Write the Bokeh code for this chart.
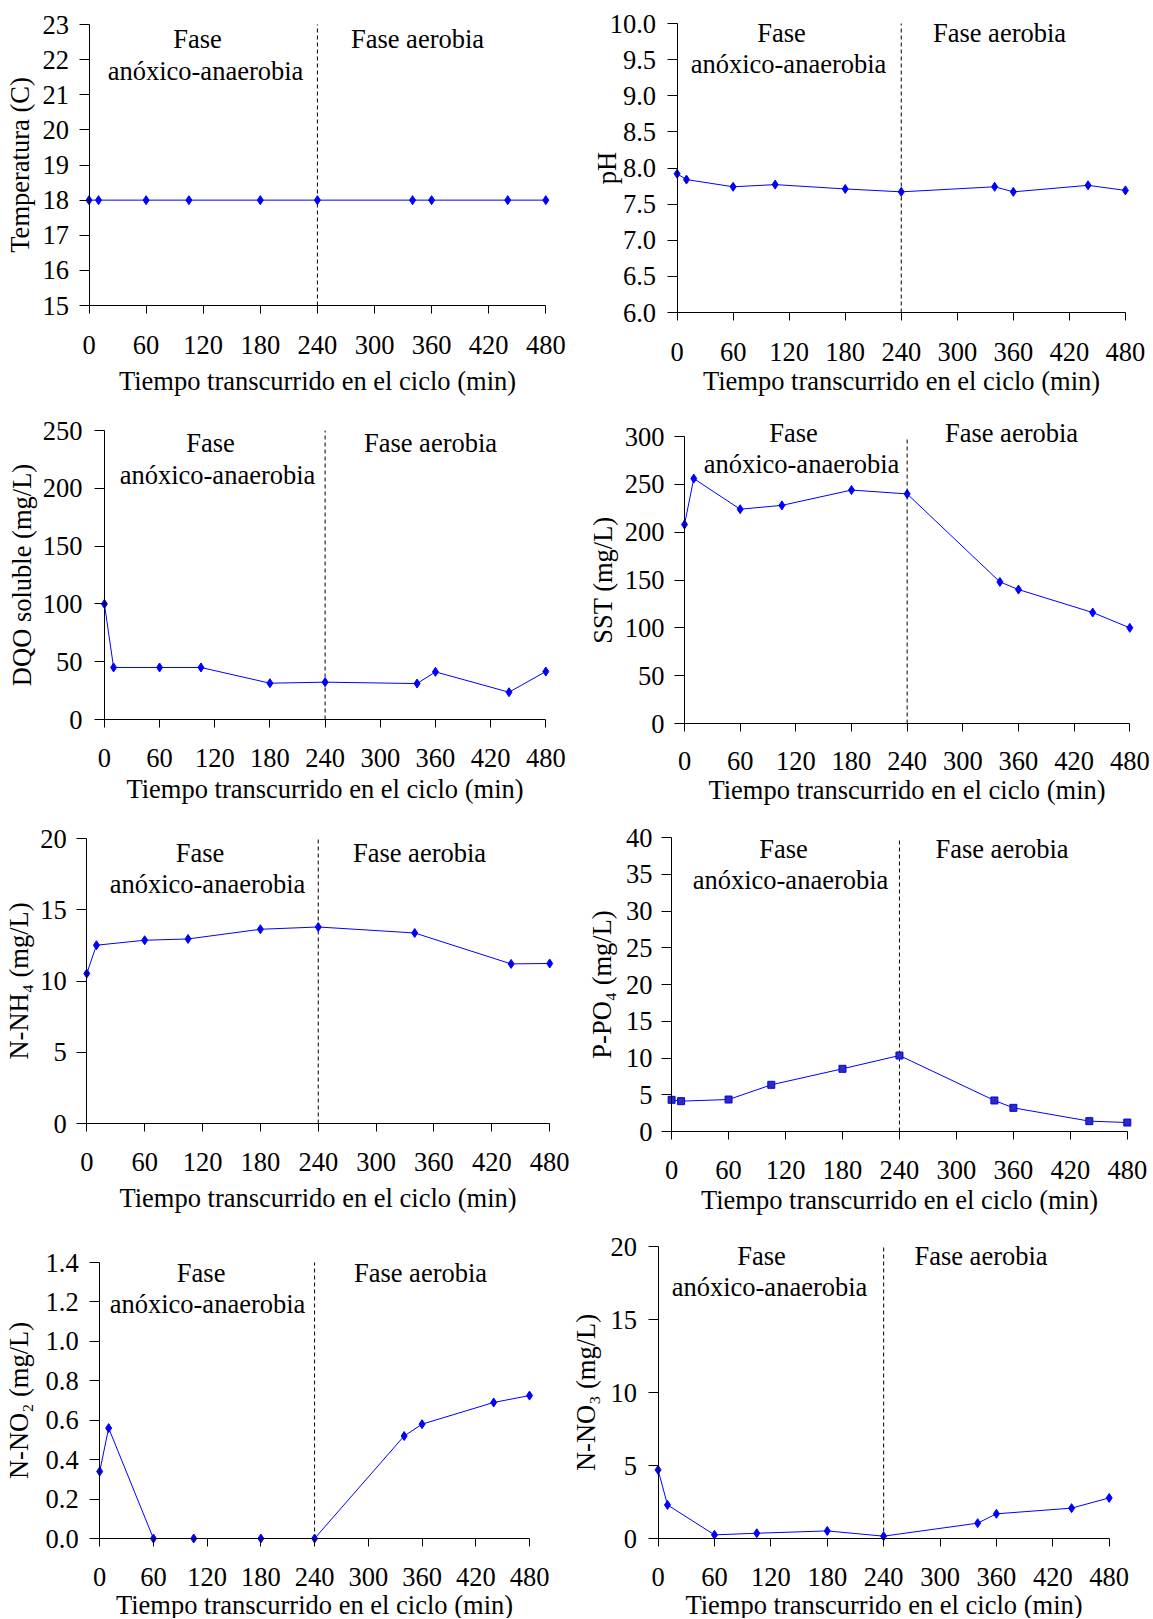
from bokeh.plotting import figure
from bokeh.layouts import column, row
from bokeh.models import Range1d, FixedTicker, Label, PrintfTickFormatter
from bokeh.embed import file_html
from bokeh.resources import INLINE

# ---------------- data ----------------
t_min = [0, 10, 60, 105, 180, 240, 340, 360, 440, 480]
t_min_nh4 = [0, 10, 60, 105, 180, 240, 340, 440, 480]

temperatura = [18, 18, 18, 18, 18, 18, 18, 18, 18, 18]
ph = [7.92, 7.84, 7.74, 7.77, 7.71, 7.67, 7.74, 7.67, 7.76, 7.69]
dqo = [100, 45, 45, 45, 31.4, 32.3, 31.1, 41.2, 23.6, 41.5]
sst = [208, 256, 224, 228, 244, 240, 148, 140, 116, 100]
n_nh4 = [10.52, 12.51, 12.86, 12.95, 13.63, 13.79, 13.37, 11.20, 11.23]
p_po4 = [4.31, 4.13, 4.35, 6.35, 8.53, 10.34, 4.22, 3.22, 1.41, 1.22]
n_no2 = [0.34, 0.56, 0.0, 0.0, 0.0, 0.0, 0.52, 0.58, 0.69, 0.725]
n_no3 = [4.70, 2.30, 0.25, 0.36, 0.52, 0.16, 1.05, 1.69, 2.08, 2.78]

x_ticks = [0, 60, 120, 180, 240, 300, 360, 420, 480]
phase_boundary = 240

yt_temp = [15, 16, 17, 18, 19, 20, 21, 22, 23]
yt_ph = [6.0, 6.5, 7.0, 7.5, 8.0, 8.5, 9.0, 9.5, 10.0]
yt_dqo = [0, 50, 100, 150, 200, 250]
yt_sst = [0, 50, 100, 150, 200, 250, 300]
yt_nh4 = [0, 5, 10, 15, 20]
yt_po4 = [0, 5, 10, 15, 20, 25, 30, 35, 40]
yt_no2 = [0.0, 0.2, 0.4, 0.6, 0.8, 1.0, 1.2, 1.4]
yt_no3 = [0, 5, 10, 15, 20]

x_title = "Tiempo transcurrido en el ciclo (min)"
txt_fase = "Fase"
txt_anox = "anóxico-anaerobia"
txt_aer = "Fase aerobia"

FONT = "Liberation Serif"
FS = "26.5px"

# ---------------- layout (page pixels) ----------------
COL_X = [0, 570]
COL_W = [570, 583]
ROW_Y = [0, 400, 810, 1220]
ROW_H = [400, 410, 410, 398]

panels = [
    dict(x=t_min, y=temperatura, yl="Temperatura (C)", yt=yt_temp, fmt="%d", mk="diamond",
         fr=(88.5, 545.3, 24, 305), sy1=10, sy2=5, sx1=22, sx2=9,
         tx=((197, 38), (205, 70), (417, 38))),
    dict(x=t_min, y=ph, yl="pH", yt=yt_ph, fmt="%.1f", mk="diamond",
         fr=(676.6, 1124.9, 23, 312), sy1=11, sy2=-15, sx1=22, sx2=2,
         tx=((781, 32), (788, 63), (999, 32))),
    dict(x=t_min, y=dqo, yl="DQO soluble (mg/L)", yt=yt_dqo, fmt="%d", mk="diamond",
         fr=(103.9, 545.3, 430, 719), sy1=12, sy2=3, sx1=21, sx2=4,
         tx=((210, 442), (217, 474), (430, 442))),
    dict(x=t_min, y=sst, yl="SST (mg/L)", yt=yt_sst, fmt="%d", mk="diamond",
         fr=(684, 1129.3, 436, 723), sy1=10, sy2=4, sx1=20, sx2=2,
         tx=((793, 432), (801, 463), (1011, 432))),
    dict(x=t_min_nh4, y=n_nh4, yl="N-NH\u2084 (mg/L)", yt=yt_nh4, fmt="%d", mk="diamond",
         fr=(86.3, 549.2, 838, 1123), sy1=10, sy2=3, sx1=21, sx2=9,
         tx=((199.5, 852), (207, 883), (419, 852))),
    dict(x=t_min, y=p_po4, yl="P-PO\u2084 (mg/L)", yt=yt_po4, fmt="%d", mk="square",
         fr=(671.1, 1126.8, 837, 1131), sy1=9, sy2=6, sx1=21, sx2=3,
         tx=((783, 848), (790, 879), (1001.5, 848))),
    dict(x=t_min, y=n_no2, yl="N-NO\u2082 (mg/L)", yt=yt_no2, fmt="%.1f", mk="diamond",
         fr=(99.2, 529, 1262, 1538), sy1=11, sy2=8, sx1=21, sx2=1,
         tx=((200.6, 1272), (207, 1303), (420, 1272))),
    dict(x=t_min, y=n_no3, yl="N-NO\u2083 (mg/L)", yt=yt_no3, fmt="%d", mk="diamond",
         fr=(657.6, 1108.7, 1246, 1538), sy1=11, sy2=7, sx1=21, sx2=1,
         tx=((761, 1255), (769, 1286), (980.5, 1255))),
]

X_TICK_LEN = 8
Y_TICK_LEN = 10


def make_panel(i, d):
    c, r = i % 2, i // 2
    fx, fy, fw, fh = COL_X[c], ROW_Y[r], COL_W[c], ROW_H[r]
    L, R, T, B = d["fr"]
    y0, y1 = d["yt"][0], d["yt"][-1]
    sx = (R - L) / 480.0
    sy = (B - T) / float(y1 - y0)
    xr = Range1d(0 - (L - fx) / sx, 480 + (fx + fw - R) / sx)
    yr = Range1d(y0 - (fy + fh - B) / sy, y1 + (T - fy) / sy)
    p = figure(width=fw, height=fh, output_backend="svg", toolbar_location=None,
               title=None, x_range=xr, y_range=yr,
               min_border_left=0, min_border_right=0, min_border_top=0, min_border_bottom=0)
    p.outline_line_color = None
    p.grid.visible = False
    p.background_fill_color = "white"
    p.border_fill_color = "white"

    for ax, tl in ((p.xaxis[0], X_TICK_LEN), (p.yaxis[0], Y_TICK_LEN)):
        ax.axis_line_color = "black"
        ax.axis_line_width = 1
        ax.major_tick_line_color = "black"
        ax.major_tick_in = 0
        ax.major_tick_out = tl
        ax.minor_tick_line_color = None
        ax.major_label_text_font = FONT
        ax.major_label_text_font_size = FS
        ax.major_label_text_color = "black"
        ax.axis_label_text_font = FONT
        ax.axis_label_text_font_size = FS
        ax.axis_label_text_font_style = "normal"
        ax.axis_label_text_color = "black"

    p.xaxis.ticker = FixedTicker(ticks=x_ticks)
    p.xaxis.bounds = (0, 480)
    p.xaxis.fixed_location = y0
    p.xaxis.major_label_standoff = d["sx1"]
    p.xaxis.axis_label = x_title
    p.xaxis.axis_label_standoff = d["sx2"]

    p.yaxis.ticker = FixedTicker(ticks=d["yt"])
    p.yaxis.bounds = (y0, y1)
    p.yaxis.fixed_location = 0
    p.yaxis.formatter = PrintfTickFormatter(format=d["fmt"])
    p.yaxis.major_label_standoff = d["sy1"]
    p.yaxis.axis_label = d["yl"]
    p.yaxis.axis_label_standoff = d["sy2"]

    p.segment(x0=[phase_boundary], y0=[y0], x1=[phase_boundary], y1=[y1],
              line_color="black", line_width=1, line_dash="4 3")

    p.line(d["x"], d["y"], line_color="#0000ff", line_width=1)
    if d["mk"] == "square":
        p.scatter(d["x"], d["y"], marker="square", size=7, fill_color="#2d2db4",
                  line_color="#0000ff", line_width=1)
    else:
        p.scatter(d["x"], d["y"], marker="diamond", size=9, fill_color="#0000ff",
                  line_color="#0000ff", line_width=1)

    def to_data(px, py):
        return ((px - L) / sx, y1 - (py - T) / sy)

    for (px, py), s in zip(d["tx"], (txt_fase, txt_anox, txt_aer)):
        xd, yd = to_data(px, py)
        p.add_layout(Label(x=xd, y=yd, text=s, text_font=FONT, text_font_size=FS,
                           text_color="black", text_align="center", text_baseline="middle"))
    return p


figs = [make_panel(i, d) for i, d in enumerate(panels)]
layout = column(row(figs[0], figs[1], spacing=0), row(figs[2], figs[3], spacing=0),
                row(figs[4], figs[5], spacing=0), row(figs[6], figs[7], spacing=0), spacing=0)

open("out.html", "w").write(file_html(layout, INLINE))
